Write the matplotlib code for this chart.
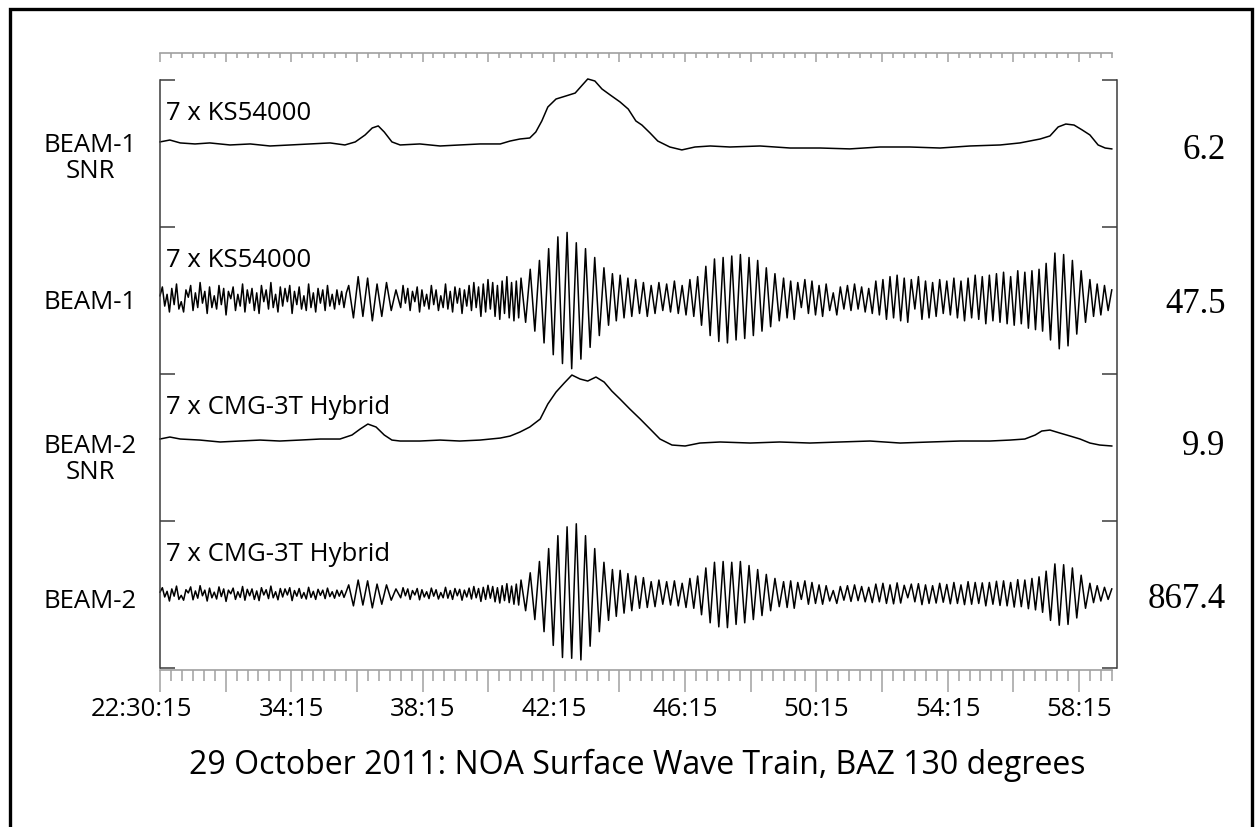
import numpy as np
import matplotlib.pyplot as plt
from matplotlib.patches import Rectangle
from matplotlib.ticker import MultipleLocator
from matplotlib.transforms import ScaledTranslation

plt.rcParams['font.family'] = ['Open Sans', 'DejaVu Sans']

# seconds after 22:30:15
SEG_EDGES = [0, 345, 440, 660, 820, 990, 1140, 1620, 1700, 1740]

SNR1_T = [0, 18, 37, 64, 91, 128, 165, 201, 238, 274, 311, 338, 357, 375, 388, 399, 410,
          424, 439, 475, 512, 548, 585, 622, 640, 658, 676, 687, 698, 709, 724, 742, 759,
          772, 782, 795, 808, 823, 841, 856, 870, 881, 896, 910, 932, 954, 978, 1006, 1042,
          1097, 1152, 1207, 1261, 1316, 1371, 1426, 1481, 1536, 1572, 1609, 1627, 1642,
          1656, 1671, 1686, 1700, 1715, 1728, 1740]
SNR1_V = [1.24, 1.39, 1.16, 1.08, 1.16, 1.0, 1.08, 0.92, 1.0, 1.08, 1.16, 1.0, 1.24, 1.79,
          2.34, 2.5, 2.02, 1.24, 1.0, 1.08, 0.92, 1.0, 1.08, 1.08, 1.31, 1.47, 1.55, 2.02,
          2.89, 3.99, 4.62, 4.86, 5.09, 5.72, 6.2, 6.04, 5.41, 4.94, 4.39, 3.83, 2.89, 2.57,
          1.94, 1.31, 0.84, 0.61, 0.84, 0.92, 0.84, 0.92, 0.76, 0.76, 0.69, 0.84, 0.84, 0.76,
          0.92, 1.0, 1.16, 1.47, 1.71, 2.42, 2.65, 2.57, 2.18, 1.79, 1.0, 0.76, 0.69]

SNR2_T = [0, 18, 37, 73, 110, 146, 183, 219, 256, 293, 329, 351, 366, 380, 395, 410, 424,
          439, 475, 512, 548, 585, 622, 640, 658, 676, 695, 709, 724, 739, 753, 768, 782,
          797, 812, 826, 841, 859, 878, 896, 914, 936, 960, 987, 1024, 1079, 1133, 1188,
          1243, 1298, 1353, 1408, 1463, 1517, 1554, 1581, 1600, 1612, 1627, 1645, 1664,
          1682, 1700, 1718, 1740]
SNR2_V = [1.27, 1.54, 1.27, 1.13, 0.87, 1.0, 1.13, 1.0, 1.13, 1.27, 1.27, 1.81, 2.62, 3.29,
          2.89, 1.81, 1.13, 1.0, 1.0, 1.13, 1.0, 1.13, 1.4, 1.67, 2.21, 2.89, 3.96, 5.99,
          7.6, 8.82, 9.9, 9.36, 9.09, 9.63, 8.95, 7.74, 6.66, 5.31, 3.96, 2.62, 1.27, 0.46,
          0.33, 0.73, 0.87, 0.73, 0.87, 0.73, 0.87, 1.0, 0.73, 0.87, 1.0, 1.0, 1.13, 1.27,
          1.81, 2.35, 2.48, 2.08, 1.67, 1.27, 0.73, 0.46, 0.33]

# beam amplitudes, one list of successive peaks/troughs per time segment
BEAM1 = [
    [2, 8, -5, 3, -9, 7, -4, 10, -7, -2, -9, 6, 1, 9, -8, 4, -6, 11, -3, 5, -10, 8, -6, 2,
     -7, 9, -4, 7, -11, 5, 0, 8, -8, 3, -5, 10, -9, 6, -3, 7, -8, 4, -10, 9, -2, 6, -7, 11,
     -6, 3, -9, 8, -5, 7, -2, 9, -10, 5, -4, 8, -7, 2, -8, 10, -6, 4, -9, 7, -3, 6, -8, 9,
     -5, 3, -7, 6, -4, 5, -6, 4],
    [9, -13, 15, -12, 14, -15, 10, -12, 11, -8, 6],
    [-6, 9, -3, 7, -8, 5, -2, 8, -9, 6, -5, 3, -7, 9, -4, 6, -8, 2, -6, 10, -7, 5, -9, 8,
     -3, 7, -10, 6, -5, 9, -8, 11, -6, 8, -12, 10, -9, 13, -7, 11, -12, 9, -14, 12, -10, 15,
     -13, 11, -15, 12, -13],
    [14, -16, 20, -22, 26, -30, 34, -38, 42, -44, 45, -47.5, 38, -41, 34, -33, 28, -25, 21],
    [-18, 17, -15, 16, -13, 14, -12, 13, -10, 11, -12, 9, -10, 11, -8, 10, -9, 12, -10, 9,
     -11, 13, -12, 15],
    [-18, 22, -25, 27, -29, 28, -30, 29, -28, 30, -27, 28, -25, 26, -22, 21, -19, 17, -15],
    [14, -13, 12, -14, 11, -6, 13, -10, 12, -11, 9, -12, 10, -8, 4, -11, 8, -7, 9, -8, 10,
     -7, 8, -9, 7, -10, 12, -11, 13, -14, 15, -13, 16, -15, 14, -16, 13, -7, 15, -14, 12,
     -13, 11, -12, 13, -10, 12, -11, 14, -13, 12, -15, 14, -13, 16, -14, 15, -17, 16, -15,
     17, -16, 18, -17, 15, -18, 19, -17, 18, -20, 19, -21, 20, -22],
    [24, -28, 31, -34, 30, -32, 26, -24, 19, -16],
    [13, -12, 10, -11, 9, -8, 6],
]
BEAM2 = [
    [20, 75, -40, 30, -90, 60, -30, 95, -70, -20, -80, 50, 10, 85, -75, 35, -55, 100, -25,
     45, -90, 70, -50, 20, -65, 85, -35, 60, -95, 45, 0, 70, -70, 25, -45, 90, -80, 55, -25,
     60, -70, 35, -85, 75, -15, 50, -60, 95, -50, 25, -75, 65, -40, 60, -15, 75, -85, 40,
     -30, 65, -55, 15, -65, 80, -45, 30, -70, 55, -20, 45, -60, 70, -35, 25, -55, 45, -30,
     40, -45, 30],
    [110, -150, 170, -140, 160, -175, 120, -130, 110, -80, 60],
    [-50, 75, -25, 60, -70, 40, -15, 65, -75, 50, -40, 25, -60, 70, -30, 50, -65, 15, -50,
     80, -55, 40, -70, 65, -25, 55, -80, 45, -40, 70, -65, 90, -50, 65, -95, 80, -70, 105,
     -55, 90, -100, 75, -115, 100, -85, 125, -110, 95, -130, 120, -140],
    [170, -210, 260, -320, 400, -470, 560, -640, 720, -790, 830, -800, 867.4, -820, 720,
     -650, 560, -470, 390],
    [-330, 300, -280, 290, -240, 250, -210, 220, -180, 200, -170, 150, -160, 170, -130, 150,
     -140, 160, -150, 130, -170, 190, -180, 220],
    [-260, 320, -360, 390, -410, 400, -420, 390, -380, 400, -360, 350, -320, 300, -270, 240,
     -210, 190, -160],
    [150, -170, 160, -180, 140, -70, 160, -130, 140, -120, 110, -130, 100, -90, 40, -120,
     90, -80, 100, -95, 110, -85, 90, -100, 80, -110, 120, -100, 130, -120, 110, -125, 135,
     -115, 105, -50, 120, -100, 125, -135, 110, -120, 100, -115, 130, -105, 115, -125, 140,
     -120, 110, -135, 150, -130, 140, -120, 135, -150, 140, -130, 155, -145, 160, -150, 140,
     -165, 175, -160, 170, -185, 190, -200, 210, -230],
    [280, -330, 370, -390, 360, -380, 320, -300, 230, -180],
    [130, -110, 100, -90, 80, -70, 60],
]

TICK_LABELS = ['22:30:15', '34:15', '38:15', '42:15', '46:15', '50:15', '54:15', '58:15']
ROW_NAMES = ['BEAM-1\nSNR', 'BEAM-1', 'BEAM-2\nSNR', 'BEAM-2']
SENSORS = ['7 x KS54000', '7 x KS54000', '7 x CMG-3T Hybrid', '7 x CMG-3T Hybrid']
TITLE = '29 October 2011: NOA Surface Wave Train, BAZ 130 degrees'

W, H = 1255, 828
PX = 72 / 100  # points per pixel
DARK = '#3c3c3c'
RULER = '#a0a0a0'
NAME_BASELINE_PX = [151.7, 309, 453, 608]


def beam_times(segments):
    t = []
    for i, seg in enumerate(segments):
        last = i == len(segments) - 1
        t.append(np.linspace(SEG_EDGES[i], SEG_EDGES[i + 1], len(seg), endpoint=last))
    return np.concatenate(t), np.concatenate([np.asarray(s, float) for s in segments])


fig = plt.figure(figsize=(W / 100, H / 100), dpi=100)
ax = fig.add_axes([160 / W, 1 - 668.7 / H, 956.7 / W, 588 / H])
ax.set_xlim(0, 1749)
ax.set_ylim(0, 4)

# each row: (times, values, zero level, gain, reference value, label text)
rows = []
snr1_t, snr1_v = np.array(SNR1_T), np.array(SNR1_V)
rows.append((snr1_t, snr1_v, 3.556, 0.449 / (snr1_v.max() - 1), 1.0, f'{snr1_v.max():.1f}'))
b1_t, b1_v = beam_times(BEAM1)
b1_max = np.abs(b1_v).max()
rows.append((b1_t, b1_v, 2.51, 0.476 / b1_max, 0.0, f'{b1_max:.1f}'))
snr2_t, snr2_v = np.array(SNR2_T), np.array(SNR2_V)
rows.append((snr2_t, snr2_v, 1.542, 0.449 / (snr2_v.max() - 1), 1.0, f'{snr2_v.max():.1f}'))
b2_t, b2_v = beam_times(BEAM2)
b2_max = np.abs(b2_v).max()
rows.append((b2_t, b2_v, 0.503, 0.476 / b2_max, 0.0, f'{b2_max:.1f}'))

for i, (t, v, level, gain, ref, value_text) in enumerate(rows):
    ax.plot(t, level + (v - ref) * gain, color='black', lw=1.1, clip_on=False)
    top = 4 - i
    ax.annotate(SENSORS[i], xy=(0, top), xytext=(6 * PX, -39 * PX), textcoords='offset points',
                fontsize=18.5, va='baseline', ha='left')
    for k, line in enumerate(ROW_NAMES[i].split('\n')):
        fig.text(90 / W, 1 - (NAME_BASELINE_PX[i] + 26.5 * k) / H, line, fontsize=18.5,
                 ha='center', va='baseline')
    ax.annotate(value_text, xy=(1749, level), xytext=(109 * PX, -13 * PX),
                textcoords='offset points', fontsize=25, ha='right', va='baseline',
                family='Liberation Serif', annotation_clip=False)

# frame: side brackets and the time rulers
for side in ['left', 'right']:
    ax.spines[side].set_color(DARK)
    ax.spines[side].set_linewidth(1.1)
ax.spines['top'].set_visible(False)
ax.spines['bottom'].set_color(RULER)
ax.spines['bottom'].set_linewidth(1.2)
ax.spines['bottom'].set_bounds(0, 1740)
ax.spines['bottom'].set_position(('outward', 2 * PX))

ax.set_yticks([0, 1, 2, 3, 4])
ax.tick_params(axis='y', left=True, right=True, direction='in', length=15 * PX,
               width=1.1, color=DARK, labelleft=False)

major = list(range(0, 1741, 120))
labels = []
for k in range(len(major)):
    labels.append(TICK_LABELS[k // 2] if k % 2 == 0 else '')
ax.set_xticks(major)
ax.set_xticklabels(labels)
ax.xaxis.set_minor_locator(MultipleLocator(20))
ax.tick_params(axis='x', which='major', direction='out', length=22 * PX, width=1.1,
               color=RULER, labelsize=18.5, pad=3)
ax.tick_params(axis='x', which='minor', direction='out', length=11 * PX, width=1.1,
               color=RULER)
first = ax.get_xticklabels()[0]
first.set_transform(first.get_transform() + ScaledTranslation(-19 / 100, 0, fig.dpi_scale_trans))

top_ruler = ax.secondary_xaxis(1 + 26.7 / 588)
top_ruler.set_xticks(major)
top_ruler.set_xticklabels([])
top_ruler.xaxis.set_minor_locator(MultipleLocator(20))
top_ruler.tick_params(axis='x', which='major', direction='in', length=9 * PX, width=1.1,
                      color=RULER)
top_ruler.tick_params(axis='x', which='minor', direction='in', length=5 * PX, width=1.1,
                      color=RULER)
top_ruler.spines['top'].set_color(RULER)
top_ruler.spines['top'].set_linewidth(1.2)
top_ruler.spines['top'].set_bounds(0, 1740)

fig.text(637 / W, 1 - 765 / H, TITLE, fontsize=23, ha='center', va='center')

# outer frame, open at the bottom edge of the image
fig.patches.append(Rectangle((10 / W, -20 / H), 1242 / W, 838 / H, transform=fig.transFigure,
                             fill=False, edgecolor='black', lw=2.4))

fig.savefig('out.png', dpi=100)
